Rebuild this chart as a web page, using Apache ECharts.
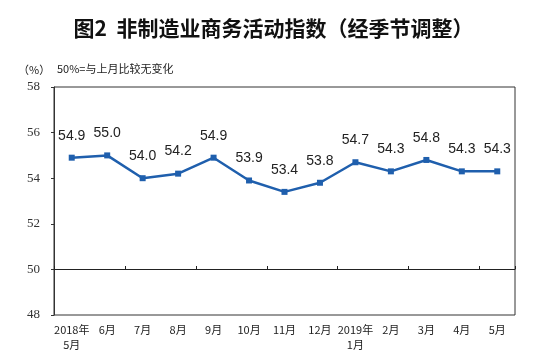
<!DOCTYPE html>
<html><head><meta charset="utf-8">
<script src="https://cdn.jsdelivr.net/npm/echarts@6/dist/echarts.min.js"></script>
<style>html,body{margin:0;padding:0;background:#fff}#c{width:547px;height:361px}</style>
</head><body><div id="c"></div>
<script>
var categories = ['2018年\n5月','6月','7月','8月','9月','10月','11月','12月','2019年\n1月','2月','3月','4月','5月'];
var values = [54.9, 55.0, 54.0, 54.2, 54.9, 53.9, 53.4, 53.8, 54.7, 54.3, 54.8, 54.3, 54.3];
var yMin = 48, yMax = 58, yStep = 2;

var chart = echarts.init(document.getElementById('c'), null, {renderer:'canvas'});
chart.setOption({
  animation:false,
  backgroundColor:'#fff',
  title:{
    text:'图2  非制造业商务活动指数（经季节调整）',
    left:'center', top:13,
    textStyle:{fontFamily:'Noto Sans CJK SC', fontSize:21, fontWeight:'bold', color:'#111'}
  },
  graphic:[
    {type:'text', left:18, top:64, style:{text:'（%）', font:'11px "Noto Sans CJK SC"', fill:'#222'}},
    {type:'text', left:57, top:63, style:{text:'50%=与上月比较无变化', font:'11px "Noto Sans CJK SC"', fill:'#222'}}
  ],
  grid:{left:54, right:32, top:87, bottom:46, show:true, borderColor:'#333', borderWidth:1, containLabel:false},
  xAxis:[
    {type:'category', data:categories, boundaryGap:true, offset:-46,
     axisLine:{show:true, lineStyle:{color:'#222', width:1}},
     axisTick:{show:true, inside:true, length:3, lineStyle:{color:'#222'}},
     axisLabel:{show:false}, splitLine:{show:false}},
    {type:'category', data:categories, boundaryGap:true, position:'bottom',
     axisLine:{show:false}, axisTick:{show:false},
     axisLabel:{show:true, interval:0, margin:7, fontSize:11, lineHeight:15, color:'#222', fontFamily:'Noto Sans CJK SC'},
     splitLine:{show:false}}
  ],
  yAxis:{type:'value', min:yMin, max:yMax, interval:yStep,
    axisLine:{show:true, lineStyle:{color:'#333'}},
    axisTick:{show:true, length:3, lineStyle:{color:'#333'}},
    axisLabel:{margin:14, fontSize:13, color:'#333', fontFamily:'Liberation Serif'},
    splitLine:{show:false}},
  series:[{
    type:'line', data:values, xAxisIndex:0,
    symbol:'rect', symbolSize:6,
    lineStyle:{color:'#1f5fad', width:2.5},
    itemStyle:{color:'#1f5fad'},
    label:{show:true, position:'top', distance:12, fontSize:14, color:'#222', fontFamily:'Liberation Sans',
      formatter:function(p){return p.value.toFixed(1);}}
  }]
});
</script></body></html>
